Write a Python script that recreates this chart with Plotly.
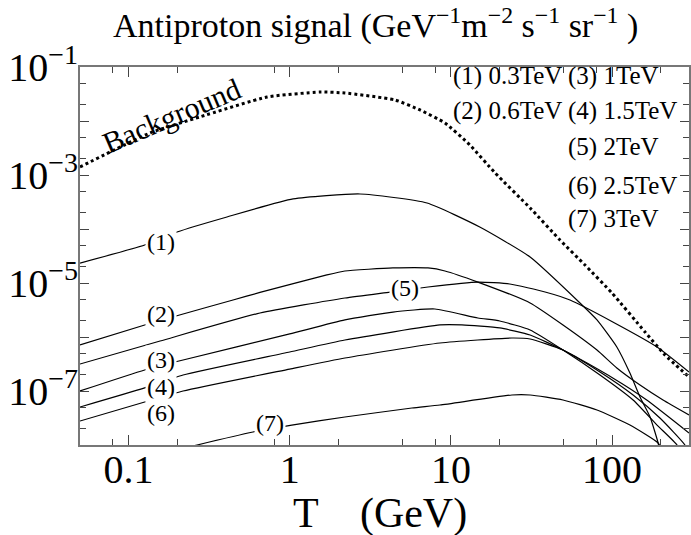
import numpy as np
import plotly.graph_objects as go

# ---------------- data ----------------
bg_T = [0.05, 0.136, 0.277, 0.723, 1.54, 2.20, 4.50, 6.43, 9.19, 13.1, 18.8, 31.0, 47.5, 67.9, 99.8, 160, 213, 300]
bg_F = [1.41e-3, 6.0e-3, 1.19e-2, 2.78e-2, 3.44e-2, 3.30e-2, 2.45e-2, 1.6e-2, 9.18e-3, 3.6e-3, 1.09e-3, 2.45e-4,
        6.25e-5, 2.15e-5, 6.53e-6, 1.24e-6, 4.64e-7, 1.82e-7]

c1_T = [0.05, 0.126, 0.200, 0.408, 1.05, 2.73, 7.11, 15.1, 31.0, 63.2, 80.6, 107, 129, 149, 172, 193, 198]
c1_F = [2.34e-5, 5.06e-5, 8.80e-5, 1.67e-4, 3.60e-4, 4.45e-4, 3.03e-4, 1.09e-4, 3.03e-5, 4.27e-6,
        2.07e-6, 6.53e-7, 2.15e-7, 7.74e-8, 3.30e-8, 1.09e-8, 7.4e-9]

c2_T = [0.05, 0.126, 0.218, 0.445, 0.654, 1.70, 2.20, 4.37, 7.21, 9.19, 14.7, 31.0, 49.6, 80.6, 107, 149, 207, 300]
c2_F = [7.11e-7, 1.67e-6, 2.67e-6, 4.84e-6, 6.7e-6, 1.41e-5, 1.67e-5, 1.90e-5, 1.90e-5, 1.67e-5,
        1.04e-5, 4.27e-6, 1.67e-6, 5.74e-7, 2.67e-7, 1.29e-7, 6.81e-8, 3.60e-8]

c3_T = [0.05, 0.126, 0.218, 1.00, 2.20, 4.37, 7.96, 14.7, 20.1, 31.0, 49.6, 84.1, 135, 190, 253, 272]
c3_F = [1.00e-7, 2.45e-7, 3.75e-7, 1.14e-6, 2.07e-6, 2.90e-6, 3.30e-6, 2.25e-6, 1.98e-6, 1.35e-6,
        5.74e-7, 1.98e-7, 6.81e-8, 2.34e-8, 1.0e-8, 6.5e-9]

c4_T = [0.05, 0.126, 0.218, 1.00, 2.20, 8.55, 11.7, 20.1, 31.0, 49.6, 84.1, 135, 198, 283, 294]
c4_F = [5.05e-8, 1.14e-7, 1.98e-7, 5.28e-7, 8.80e-7, 1.67e-6, 1.67e-6, 1.47e-6, 1.09e-6, 5.74e-7,
        2.25e-7, 8.43e-8, 3.16e-8, 1.0e-8, 7.0e-9]

c5_T = [0.05, 0.157, 0.654, 2.20, 4.19, 7.21, 14.7, 23.2, 38.4, 54.8, 101, 190, 300]
c5_F = [3.16e-7, 8.43e-7, 2.78e-6, 5.28e-6, 6.8e-6, 8.43e-6, 1.04e-5, 9.58e-6, 6.81e-6, 4.84e-6,
        1.90e-6, 6.53e-7, 2.25e-7]

c6_T = [0.05, 0.126, 0.218, 1.00, 2.20, 8.55, 23.9, 31.0, 49.6, 101, 164, 300]
c6_F = [2.78e-8, 6.25e-8, 1.00e-7, 2.55e-7, 4.08e-7, 7.74e-7, 9.58e-7, 9.18e-7, 5.74e-7, 1.74e-7,
        6.81e-8, 1.67e-8]

c7_T = [0.224, 0.266, 0.592, 1.03, 2.20, 5.73, 8.55, 23.9, 31.0, 49.6, 80.6, 129, 193, 204]
c7_F = [8.8e-9, 1.0e-8, 1.74e-8, 2.34e-8, 3.30e-8, 4.84e-8, 5.50e-8, 8.43e-8, 8.43e-8, 6.81e-8,
        4.45e-8, 2.34e-8, 1.09e-8, 8.0e-9]

curve_T = [c1_T, c2_T, c3_T, c4_T, c5_T, c6_T, c7_T]
curve_F = [c1_F, c2_F, c3_F, c4_F, c5_F, c6_F, c7_F]

# curve label positions (T, flux) and texts
label_text = ["(1)", "(2)", "(3)", "(4)", "(6)", "(7)", "(5)"]
label_T = [0.159, 0.159, 0.159, 0.159, 0.159, 0.755, 5.19]
label_F = [5.74e-5, 2.67e-6, 3.75e-7, 1.19e-7, 3.92e-8, 2.55e-8, 8.07e-6]

bg_label = "Background"
bg_label_T = 0.186
bg_label_F = 1.29e-2

legend_rows = [["(1) 0.3TeV", "(3) 1TeV"],
               ["(2) 0.6TeV", "(4) 1.5TeV"],
               ["", "(5) 2TeV"],
               ["", "(6) 2.5TeV"],
               ["", "(7) 3TeV"]]

x_major = [0.1, 1, 10, 100]
x_major_text = ["0.1", "1", "10", "100"]
x_minor = [0.08, 0.2, 0.8, 2, 5, 8, 20, 50, 80, 200]

y_major = [1e-8, 1e-7, 1e-6, 1e-5, 1e-4, 1e-3, 1e-2, 1e-1]
y_major_text = ["", "10<sup>−7</sup>", "", "10<sup>−5</sup>", "", "10<sup>−3</sup>", "", "10<sup>−1</sup>"]
y_minor = [m * 10.0 ** e for e in range(-9, -1) for m in (2, 5)]

title_text = "Antiproton signal (GeV<sup>−1</sup>m<sup>−2</sup> s<sup>−1</sup> sr<sup>−1</sup> )"
xtitle_text = "T    (GeV)"

FONT = "Liberation Serif"

# ---------------- figure ----------------
fig = go.Figure()

fig.add_trace(go.Scatter(x=bg_T, y=bg_F, mode="lines",
                         line=dict(color="black", width=3, dash="dot", shape="spline", smoothing=0.5),
                         hoverinfo="skip", showlegend=False))
for T, F in zip(curve_T, curve_F):
    fig.add_trace(go.Scatter(x=T, y=F, mode="lines",
                             line=dict(color="black", width=1.2, shape="spline", smoothing=0.5),
                             hoverinfo="skip", showlegend=False))

annotations = []
for t, x, y in zip(label_text, label_T, label_F):
    annotations.append(dict(x=np.log10(x), y=np.log10(y), xref="x", yref="y", text=t, showarrow=False,
                            font=dict(family=FONT, size=24, color="black"), bgcolor="white", borderpad=1))
annotations.append(dict(x=np.log10(bg_label_T), y=np.log10(bg_label_F), xref="x", yref="y", text=bg_label,
                        showarrow=False, textangle=-23, font=dict(family=FONT, size=30, color="black")))

row_y = [0.976, 0.884, 0.788, 0.685, 0.598]
col_x = [0.610, 0.798]
for r, row in enumerate(legend_rows):
    for c, txt in enumerate(row):
        if txt:
            annotations.append(dict(x=col_x[c], y=row_y[r], xref="paper", yref="paper", text=txt, showarrow=False,
                                    xanchor="left", yanchor="middle", font=dict(family=FONT, size=25, color="black")))

annotations.append(dict(x=0.486, y=1.115, xref="paper", yref="paper", text=title_text, showarrow=False,
                        xanchor="center", yanchor="middle", font=dict(family=FONT, size=34, color="black")))
annotations.append(dict(x=0.492, y=-0.182, xref="paper", yref="paper", text=xtitle_text, showarrow=False,
                        xanchor="center", yanchor="middle", font=dict(family=FONT, size=42, color="black")))

fig.update_layout(
    width=691, height=535,
    margin=dict(l=80, r=2, t=67, b=90, autoexpand=False),
    paper_bgcolor="white", plot_bgcolor="white",
    showlegend=False,
    annotations=annotations,
    font=dict(family=FONT, color="black"),
)

fig.update_xaxes(type="log", range=[np.log10(0.05), np.log10(300)], automargin=False,
                 tickmode="array", tickvals=x_major, ticktext=x_major_text,
                 ticks="inside", ticklen=10, tickwidth=1, tickcolor="#444", ticklabelstandoff=-12,
                 minor=dict(tickmode="array", tickvals=x_minor, ticks="inside", ticklen=6, tickcolor="#444", showgrid=False),
                 showline=True, linecolor="#777", linewidth=2, mirror="ticks",
                 showgrid=False, zeroline=False,
                 tickfont=dict(family=FONT, size=40, color="black"))

fig.update_yaxes(type="log", range=[-8, -1], automargin=False,
                 tickmode="array", tickvals=y_major, ticktext=y_major_text,
                 ticks="inside", ticklen=9, tickwidth=1, tickcolor="#444", ticklabelstandoff=-8,
                 minor=dict(tickmode="array", tickvals=y_minor, ticks="inside", ticklen=6, tickcolor="#444", showgrid=False),
                 showline=True, linecolor="#777", linewidth=2, mirror="ticks",
                 showgrid=False, zeroline=False,
                 tickfont=dict(family=FONT, size=40, color="black"))

fig.write_html("out.html", config=dict(displayModeBar=False),
               post_script="document.body.style.margin='0';document.body.style.overflow='hidden';")
